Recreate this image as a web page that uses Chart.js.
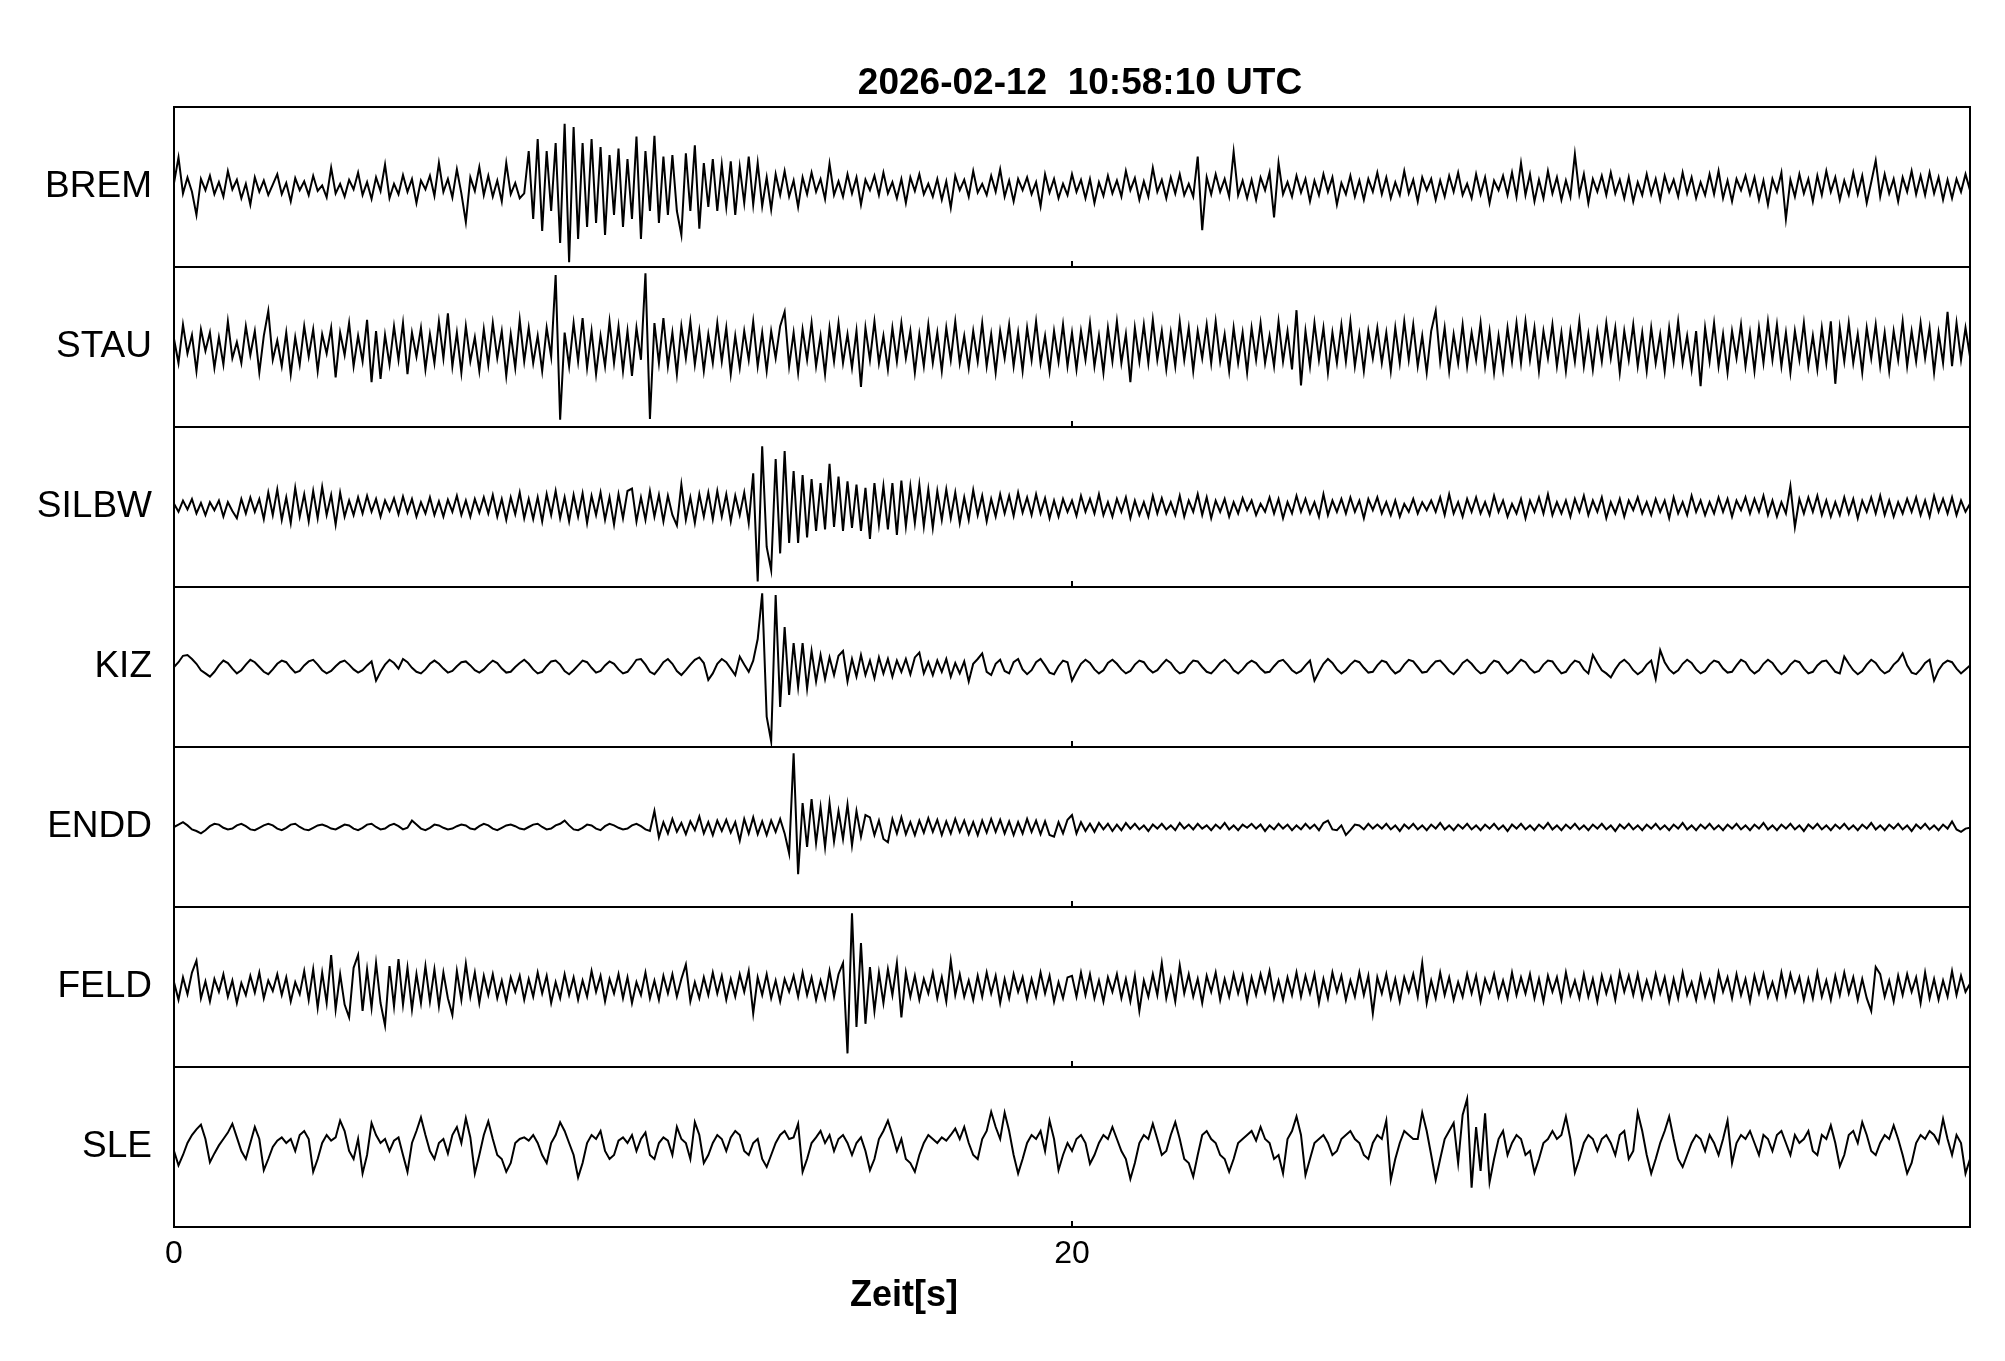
<!DOCTYPE html>
<html>
<head>
<meta charset="utf-8">
<script src="https://cdn.jsdelivr.net/npm/chart.js@4.4.1/dist/chart.umd.min.js"></script>
<style>
  html, body { margin: 0; padding: 0; background: #fff; }
</style>
</head>
<body>
<canvas id="seismo" width="2005" height="1361"></canvas>
<script>
// station names, top to bottom
const stations = ["BREM", "STAU", "SILBW", "KIZ", "ENDD", "FELD", "SLE"];
const sampleStep = 0.1; // seconds between read-off samples
const timeTicks = [0, 20];
const plotTitle = "2026-02-12  10:58:10 UTC";
const xLabel = "Zeit[s]";

// amplitudes in % of half a panel, one row = one second
const brem = [
  5,37,-8,12,-6,-35,10,-4,14,-9,
  6,-12,20,-3,9,-14,4,-22,12,-6,
  8,-10,3,16,-9,5,-18,11,-4,7,
  -10,14,-5,2,-13,24,-8,4,-12,9,
  -3,18,-10,6,-15,12,-5,28,-14,4,
  -9,15,-6,10,-20,8,-3,14,-11,30,
  -6,10,-13,22,-8,-44,12,-5,25,-10,
  14,-12,8,-18,30,-9,5,-14,-8,45,
  -40,60,-55,45,-30,55,-70,79,-94,75,
  -65,55,-50,60,-45,50,-60,40,-35,48,
  -50,35,-40,63,-65,45,-30,64,-45,38,
  -35,40,-30,-60,42,-30,52,-52,30,-25,
  35,-30,28,-25,32,-35,25,-20,38,-22,
  30,-24,12,-28,16,-10,20,-12,8,-25,
  12,-9,18,-6,10,-15,29,-10,7,-12,
  16,-8,12,-22,9,-4,14,-10,18,-8,
  6,-14,10,-20,12,-5,16,-9,4,-12,
  10,-16,7,-26,14,-4,9,-12,20,-7,
  4,-10,14,-6,22,-12,8,-18,10,-4,
  12,-9,6,-24,16,-7,10,-14,4,-10,
  16,-6,9,-14,10,-20,6,-11,14,-8,
  8,-12,20,-4,11,-16,7,-12,24,-6,
  9,-14,12,-8,16,-10,4,-12,38,-54,
  12,-9,16,-6,10,-12,44,-10,8,-14,
  9,-16,12,-4,18,-38,30,-9,6,-12,
  14,-7,10,-18,8,-10,16,-6,12,-22,
  5,-9,14,-12,8,-16,10,-6,18,-9,
  12,-14,6,-10,20,-8,9,-18,12,-4,
  10,-16,8,-12,14,-6,18,-10,4,-14,
  16,-9,12,-20,8,-4,14,-10,18,-12,
  30,-10,16,-18,9,-14,20,-8,12,-16,
  8,-12,41,-9,16,-20,10,-6,14,-10,
  18,-8,9,-14,12,-18,6,-10,16,-9,
  10,-16,14,-6,9,-12,18,-8,12,-14,
  6,-10,16,-9,20,-14,8,-18,10,-4,
  14,-9,12,-16,8,-22,10,-6,18,-40,
  9,-12,16,-8,10,-18,14,-10,20,-6,
  12,-16,8,-10,18,-9,14,-20,6,33,
  -12,16,-8,10,-18,12,-6,20,-9,14,
  -10,18,-8,12,-16,9,-14,10,-6,16,
  -4
];
const stau = [
  10,-20,28,-8,15,-30,22,-5,18,-26,
  12,-22,32,-14,6,-20,26,-10,20,-32,
  14,45,-16,8,-24,18,-34,12,-22,26,
  -12,22,-30,16,-8,24,-38,18,-10,30,
  -24,14,-18,34,-44,20,-40,15,-22,26,
  -16,30,-34,18,-12,24,-28,16,-20,32,
  -14,42,-24,18,-32,26,-18,12,-30,22,
  -22,30,-14,20,-36,16,-26,34,-18,24,
  -20,14,-30,24,-12,90,-91,18,-24,30,
  -18,36,-26,20,-34,14,-24,32,-20,26,
  -30,20,-36,24,-16,92,-90,30,-20,36,
  -24,18,-34,26,-14,32,-22,20,-30,16,
  -20,30,-18,24,-34,14,-26,20,-16,32,
  -24,18,-30,20,-14,26,44,-24,18,-32,
  22,-16,30,-24,14,-34,24,-18,30,-20,
  16,-26,20,-50,24,-16,32,-20,14,-28,
  24,-18,30,-14,20,-32,16,-24,28,-20,
  18,-30,24,-16,32,-20,14,-26,20,-18,
  30,-24,16,-32,20,-14,28,-24,18,-30,
  24,-16,32,-20,14,-30,20,-18,28,-24,
  18,-28,20,-16,30,-24,14,-32,24,-18,
  32,-20,16,-44,24,-18,28,-20,34,-16,
  20,-28,18,-24,32,-16,24,-30,20,-14,
  28,-20,32,-18,16,-30,24,-20,18,-32,
  24,-16,30,-20,14,-24,32,-18,20,-28,
  46,-48,20,-24,30,-16,24,-32,18,-20,
  28,-18,32,-24,16,-30,20,-14,24,-20,
  18,-30,24,-20,32,-16,28,-24,14,-32,
  20,45,-18,24,-30,16,-20,28,-24,18,
  -16,30,-24,20,-32,14,-28,24,-18,30,
  -20,32,-16,24,-30,20,-14,28,-24,18,
  -30,20,-18,32,-24,16,-28,20,-18,30,
  -14,24,-32,20,-16,28,-24,18,-30,24,
  -20,16,-30,24,-18,32,-20,14,-28,20,
  -49,24,-18,30,-24,16,-32,20,-14,28,
  -24,18,-30,24,-20,32,-16,28,-24,18,
  -32,20,-16,30,-24,14,-28,24,-20,32,
  -46,24,-18,30,-20,16,-32,24,-14,28,
  -24,18,-30,20,-16,32,-24,20,-18,30,
  -14,24,-32,18,-20,44,-24,30,-16,24,
  -12
];
const silbw = [
  4,-6,8,-3,10,-8,5,-10,6,-4,
  8,-12,6,-5,-14,10,-8,12,-6,10,
  -15,18,-10,22,-16,12,-20,24,-12,16,
  -18,20,-14,25,-10,15,-22,18,-12,8,
  -10,12,-8,14,-6,10,-12,8,-5,11,
  -9,13,-7,10,-12,6,-8,12,-10,7,
  -12,9,-6,14,-10,8,-12,10,-7,12,
  -8,15,-12,10,-16,12,-9,18,-14,10,
  -15,12,-18,16,-10,20,-14,12,-18,15,
  -12,17,-20,14,-10,18,-16,12,-22,16,
  -14,20,23,-18,12,-16,20,-12,15,-18,
  14,-10,-23,28,-16,12,-20,16,-12,18,
  -15,20,-12,16,-18,14,-10,18,-20,42,
  -93,76,-50,-79,60,-58,70,-45,45,-45,
  40,-38,35,-30,30,-28,54,-25,38,-30,
  32,-26,28,-30,24,-40,30,-22,26,-28,
  30,-35,33,-24,26,-20,28,-24,22,-26,
  20,-16,22,-14,18,-20,12,-16,21,-10,
  14,-18,10,-12,16,-8,14,-11,18,-7,
  12,-10,16,-8,11,-14,8,-12,10,-6,
  8,-11,14,-6,10,-8,16,-10,6,-12,
  10,-6,12,-14,8,-10,6,-12,14,-8,
  11,-8,6,-10,14,-12,8,-6,16,-10,
  12,-14,8,-6,10,-12,6,-8,11,-4,
  8,-10,4,-6,12,-8,10,-14,6,-8,
  14,-6,10,-8,6,-12,16,-10,8,-6,
  10,-8,12,-6,8,-14,10,-4,12,-8,
  6,-10,8,-12,4,-6,10,-8,6,-4,
  8,-6,12,-10,16,-8,6,-12,10,-6,
  12,-8,6,-10,14,-6,8,-12,4,-8,
  10,-14,8,-6,12,-8,16,-10,6,-8,
  8,-12,10,-6,14,-10,8,-6,12,-14,
  6,-8,10,-12,8,-4,12,-8,6,-10,
  10,-6,8,-14,12,-8,6,-10,14,-6,
  8,-10,6,-8,12,-6,10,-12,8,-4,
  12,-8,10,-6,14,-10,8,-12,6,-8,
  26,-25,10,-8,12,-6,14,-10,8,-12,
  6,-10,12,-8,10,-14,8,-6,12,-8,
  14,-10,8,-12,6,-8,10,-6,12,-10,
  8,-12,14,-6,10,-8,12,-10,8,-6,
  4
];
const kiz = [
  0,6,14,15,10,4,-4,-8,-12,-6,
  2,8,5,-2,-8,-4,3,9,6,0,
  -6,-9,-3,4,8,6,-1,-7,-5,2,
  7,9,3,-4,-8,-5,1,6,8,3,
  -3,-7,-4,2,7,-17,-6,3,9,5,
  -2,10,6,-1,-6,-8,-3,4,8,4,
  -2,-7,-5,1,6,7,2,-4,-7,-3,
  3,8,5,-2,-7,-6,0,5,9,4,
  -3,-8,-6,1,7,8,3,-5,-9,-4,
  2,8,6,-1,-7,-5,2,7,4,-3,
  -8,-6,1,9,10,3,-6,-9,-2,6,
  10,4,-5,-10,-4,3,9,12,5,-16,
  -8,4,10,6,-2,-10,13,3,-6,8,
  35,92,-62,-93,90,-50,50,-35,30,-25,
  30,-27,20,-18,15,-15,12,-10,14,20,
  -18,10,-12,15,-10,8,-14,12,-8,10,
  -12,8,-6,10,-9,12,18,-8,6,-10,
  8,-6,10,-12,5,-8,7,-18,4,10,
  17,-6,-10,4,9,-5,-8,6,10,-3,
  -9,-4,6,10,2,-7,-9,1,8,6,
  -17,-6,4,9,5,-3,-8,-4,5,9,
  4,-3,-8,-5,3,8,6,-2,-7,-4,
  3,9,5,-3,-8,-6,2,8,7,0,
  -6,-8,-2,5,9,4,-4,-8,-3,4,
  8,5,-2,-7,-6,1,7,9,3,-4,
  -8,-5,2,8,-17,-6,4,10,5,-3,
  -8,-4,3,8,6,-1,-7,-6,2,8,
  6,-2,-8,-5,3,9,7,0,-7,-6,
  1,7,8,2,-5,-9,-3,5,9,4,
  -3,-8,-6,2,8,6,-2,-8,-4,3,
  9,6,-2,-7,-5,3,8,7,-1,-8,
  -6,2,8,6,-3,-8,15,5,-4,-8,
  -13,-3,5,9,4,-4,-9,-5,3,8,
  -15,21,6,-3,-8,-4,4,9,5,-3,
  -8,-5,3,8,6,-2,-7,-6,2,9,
  6,-3,-8,-4,4,9,5,-3,-9,-5,
  3,8,6,-2,-8,-6,2,7,8,1,
  -6,-8,13,4,-4,-9,-5,3,9,5,
  -3,-8,-5,3,8,17,2,-7,-9,-3,
  5,9,-17,-4,4,8,6,-2,-8,-3,
  2
];
const endd = [
  0,3,6,2,-3,-5,-8,-4,1,4,
  3,-1,-3,-2,2,4,1,-3,-4,-1,
  2,4,2,-2,-4,-1,3,4,0,-3,
  -4,-1,2,3,1,-2,-3,0,3,2,
  -2,-4,-1,3,4,0,-3,-2,2,4,
  1,-3,-1,8,3,-2,-4,-1,3,2,
  -1,-3,-2,1,3,2,-2,-3,1,4,
  2,-2,-4,-1,2,3,1,-2,-3,0,
  3,4,0,-3,-2,2,4,8,2,-3,
  -4,-1,3,2,-2,-4,1,4,2,-1,
  -3,-2,2,4,1,-3,-5,20,-13,6,
  -8,10,-6,5,-9,7,-4,13,-8,6,
  -10,8,-5,9,-7,6,-17,10,-8,12,
  -9,7,-10,8,-6,10,-8,-33,92,-59,
  30,-25,35,-20,25,-25,30,-18,20,-15,
  28,-23,20,-12,15,12,-10,8,-15,-19,
  10,-8,12,-9,6,-10,8,-7,11,-6,
  9,-10,7,-8,10,-6,8,-9,6,-10,
  8,-7,10,-6,9,-8,7,-10,6,-8,
  10,-6,8,-9,7,-10,-12,6,-8,9,
  15,-8,6,-5,4,-6,5,-3,4,-5,
  3,-4,5,-2,4,-3,2,-5,3,-2,
  4,-3,2,-4,5,-2,3,-3,4,-2,
  2,-4,3,-2,5,-3,2,-4,3,-1,
  4,-2,3,-5,2,-3,4,-2,3,-4,
  2,-3,4,-2,3,-4,5,8,-3,-4,
  2,-10,-4,3,2,-3,4,-2,3,-2,
  4,-3,2,-5,3,-2,4,-3,2,-4,
  3,-2,5,-3,2,-4,3,-2,4,-3,
  2,-4,3,-2,4,-3,2,-5,3,-2,
  4,-3,2,-4,3,-2,5,-3,2,-4,
  3,-2,4,-3,2,-4,3,-2,4,-3,
  2,-5,3,-2,4,-3,2,-4,3,-2,
  4,-3,2,-4,3,-2,5,-3,2,-4,
  3,-2,4,-3,2,-4,3,-2,4,-3,
  2,-4,3,-2,5,-3,2,-4,3,-2,
  4,-3,2,-5,3,-2,4,-3,2,-4,
  3,-2,4,-3,2,-4,3,-2,5,-3,
  2,-4,3,-2,4,-3,2,-5,3,-2,
  4,-3,2,-4,3,-2,7,-3,-6,-2,
  -1
];
const feld = [
  6,-16,12,-9,18,33,-14,7,-18,10,
  -6,16,-12,8,-20,5,-10,14,-7,18,
  -14,8,-5,16,-10,12,-18,6,-9,20,
  -16,22,-26,18,-20,40,-28,16,-22,-38,
  24,40,-30,22,-26,30,-20,-48,26,-24,
  35,-22,24,-28,16,-20,26,-18,22,-24,
  18,-14,-35,20,-16,29,-12,18,-20,14,
  -10,16,-14,8,-18,12,-6,14,-16,10,
  -12,18,-8,14,-20,6,-14,16,-10,12,
  -16,8,-12,20,-6,14,-18,10,-8,16,
  -14,12,-20,6,-10,18,-14,8,-16,14,
  -8,16,-12,10,28,-18,6,-14,12,-10,
  18,-8,14,-16,10,-12,16,-6,20,-33,
  12,-10,16,-14,8,-18,10,-6,14,-12,
  18,-10,12,-16,8,-14,20,-12,16,30,
  -83,92,-50,55,-46,25,-30,18,-20,22,
  -10,30,-38,18,-12,14,-16,10,-8,18,
  -14,12,-18,33,-10,16,-12,8,-16,14,
  -12,18,-8,14,-20,10,-14,16,-6,12,
  -16,10,-12,18,-8,14,-18,6,-14,12,
  14,-12,18,-10,16,-14,8,-18,12,-6,
  16,-14,10,-18,14,-30,8,-12,16,-10,
  30,-14,12,-18,27,-8,16,-12,10,-20,
  14,-6,18,-16,10,-12,16,-8,14,-18,
  12,-10,16,-6,20,-14,8,-16,12,-10,
  18,-12,14,-8,16,-20,10,-14,18,-6,
  14,-16,8,-12,18,-10,14,-33,12,-8,
  16,-14,10,-18,12,-6,16,-12,30,-20,
  8,-14,18,-10,12,-16,6,-12,16,-8,
  14,-18,10,-6,16,-12,8,-14,18,-10,
  12,-8,16,-14,10,-18,14,-6,12,-16,
  18,-10,8,-14,16,-12,10,-18,14,-8,
  12,-16,18,-6,14,-10,16,-14,8,-12,
  16,-8,12,-18,10,-14,18,-10,6,-16,
  14,-12,8,-16,18,-6,12,-14,16,-10,
  10,-18,14,-8,16,-12,6,-14,18,-10,
  16,-6,12,-16,10,-14,18,-12,8,-16,
  14,-10,18,-8,12,-16,10,-14,-30,25,
  16,-12,8,-18,14,-10,16,-6,12,-20,
  18,-14,10,-16,8,-12,20,-10,14,-6,
  4
];
const sle = [
  -5,-23,-10,5,15,22,28,10,-19,-8,
  2,10,18,29,12,-5,-15,5,25,10,
  -29,-15,0,8,12,5,10,-5,15,20,
  10,-31,-15,5,15,8,12,33,20,-5,
  -15,10,-33,-10,30,15,5,10,-5,8,
  12,-10,-31,5,20,37,15,-5,-15,5,
  10,-8,15,25,5,36,12,-33,-10,15,
  32,10,-10,-15,-31,-20,5,10,12,8,
  15,5,-10,-20,5,15,31,20,5,-10,
  -38,-20,5,15,10,20,-5,-15,-10,8,
  12,5,15,-5,10,18,-10,-15,5,12,
  8,-10,25,10,5,-15,31,15,-20,-10,
  5,15,10,-5,12,20,15,-5,-10,5,
  10,-15,-25,-10,5,15,20,10,12,29,
  -31,-15,5,12,20,5,15,-5,10,15,
  5,-10,5,12,-5,-29,-15,10,20,33,
  15,-5,10,-15,-20,-31,-10,5,15,10,
  5,12,8,15,23,10,25,5,-10,-15,
  10,20,44,25,10,43,20,-10,-33,-15,
  5,15,10,20,-5,33,10,-29,-10,5,
  -5,10,15,5,-21,-10,5,15,10,25,
  10,-5,-15,-40,-20,5,15,10,29,10,
  -10,-5,15,31,10,-15,-20,-37,-10,15,
  20,10,5,-10,-15,-31,-15,5,10,15,
  20,8,25,10,5,-15,-10,-33,10,20,
  38,15,-35,-15,5,10,15,5,-10,-5,
  10,15,20,10,5,-10,-15,5,15,10,
  33,-41,-15,5,20,15,10,10,43,20,
  -10,-41,-15,10,20,30,-20,40,60,-51,
  25,-30,42,-44,-15,10,20,-10,5,15,
  10,-10,-5,-32,-15,5,10,20,10,15,
  38,10,-32,-15,5,15,10,-5,10,15,
  5,-10,15,20,-15,-5,43,20,-10,-33,
  -15,5,20,38,10,-15,-25,-10,5,15,
  10,-5,15,5,-10,10,33,-20,5,15,
  10,20,5,-10,15,10,-5,15,20,5,
  -10,15,5,10,20,-5,-10,15,10,27,
  5,-24,-10,15,20,5,31,15,-5,-10,
  5,15,10,27,10,-10,-33,-20,5,15,
  10,20,15,5,35,10,-10,15,5,-33,
  -15
];
const traces = [brem, stau, silbw, kiz, endd, feld, sle];

const fontFamily = "'Liberation Sans', Arial, sans-serif";
Chart.defaults.font.family = fontFamily;
Chart.defaults.color = "#000";

// y scales: one stacked panel per station (last defined ends up on top)
const scales = {
  x: {
    type: "linear",
    position: "bottom",
    min: 0,
    max: 40,
    grid: { display: false },
    border: { display: false },
    afterBuildTicks: (s) => { s.ticks = timeTicks.map((v) => ({ value: v })); },
    afterFit: (s) => { s.height = 134; },
    ticks: { font: { size: 32 }, color: "#000", padding: 0, maxRotation: 0, autoSkip: false }
  }
};
for (let i = stations.length - 1; i >= 0; i--) {
  scales["y" + i] = {
    type: "linear",
    position: "left",
    stack: "panels",
    stackWeight: 1,
    min: -100,
    max: 100,
    grid: { display: false },
    border: { display: false },
    afterBuildTicks: (s) => { s.ticks = [{ value: 0 }]; },
    afterFit: (s) => { s.width = 174; },
    ticks: { callback: () => stations[i], font: { size: 37 }, color: "#000", padding: 14 }
  };
}

const datasets = traces.map((vals, i) => ({
  label: stations[i],
  yAxisID: "y" + i,
  data: vals.map((v, k) => ({ x: k * sampleStep, y: v })),
  borderColor: "#000",
  borderWidth: 2,
  pointRadius: 0,
  tension: 0,
  fill: false
}));

// panel frames, inward tick at 20 s, title and axis label
const frames = {
  id: "frames",
  afterDatasetsDraw(chart) {
    const ctx = chart.ctx;
    const area = chart.chartArea;
    const xs = chart.scales.x;
    ctx.save();
    ctx.strokeStyle = "#000";
    ctx.lineWidth = 2;
    stations.forEach((name, i) => {
      const s = chart.scales["y" + i];
      ctx.strokeRect(area.left, s.top, area.right - area.left, s.bottom - s.top);
      const px = xs.getPixelForValue(20);
      ctx.beginPath();
      ctx.moveTo(px, s.bottom);
      ctx.lineTo(px, s.bottom - 6);
      ctx.stroke();
    });
    ctx.fillStyle = "#000";
    ctx.textAlign = "center";
    ctx.textBaseline = "middle";
    ctx.font = "bold 37px " + fontFamily;
    ctx.fillText(plotTitle, 1080, 84);
    ctx.font = "bold 36px " + fontFamily;
    ctx.fillText(xLabel, 904, 1296);
    ctx.restore();
  }
};

new Chart(document.getElementById("seismo"), {
  type: "line",
  data: { datasets: datasets },
  options: {
    responsive: false,
    animation: false,
    events: [],
    parsing: false,
    layout: { padding: { top: 107, right: 35, left: 0, bottom: 0 } },
    plugins: { legend: { display: false }, tooltip: { enabled: false } },
    scales: scales
  },
  plugins: [frames]
});
</script>
</body>
</html>
